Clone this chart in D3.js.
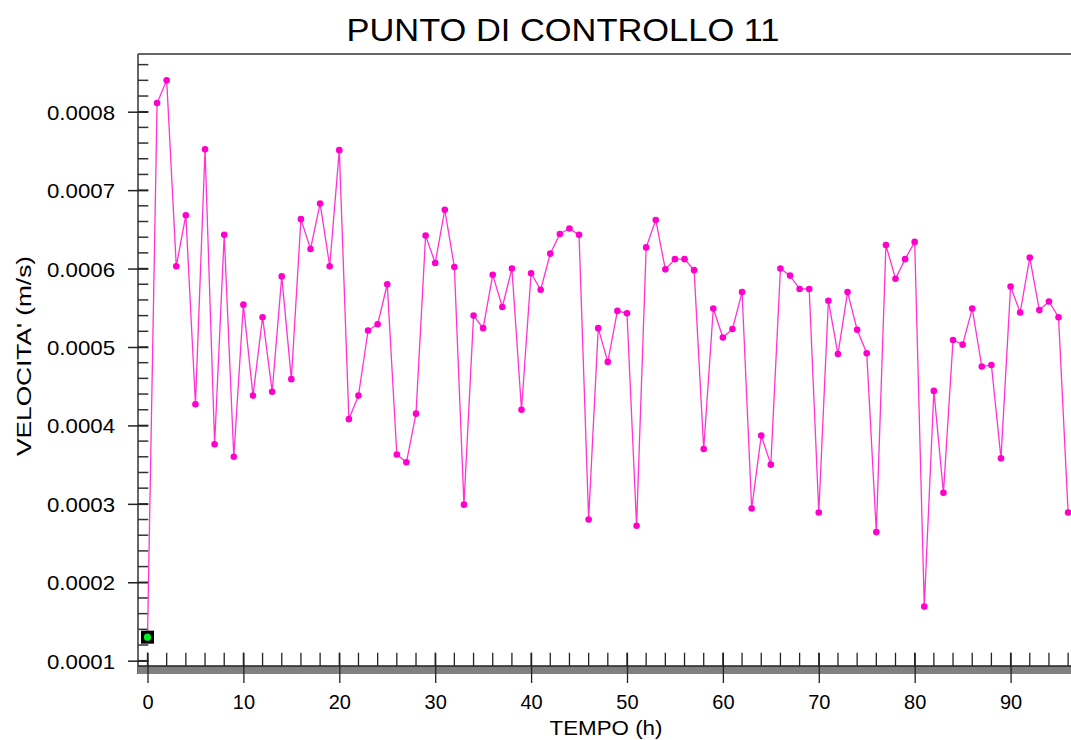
<!DOCTYPE html>
<html>
<head>
<meta charset="utf-8">
<script src="https://cdn.jsdelivr.net/npm/d3@7"></script>
<style>
  html, body { margin: 0; padding: 0; background: #fff; }
  svg { display: block; font-family: "Liberation Sans", Arial, sans-serif; }
</style>
</head>
<body>
<svg id="chart" width="1071" height="740"></svg>
<script>
// ---- data ----
const hours = d3.range(0, 97);
const velocity = [
  0.000130, 0.000811, 0.000840, 0.000603, 0.000668, 0.000427, 0.000752, 0.000376, 0.000643, 0.000360,
  0.000554, 0.000438, 0.000538, 0.000443, 0.000590, 0.000459, 0.000663, 0.000625, 0.000683, 0.000603,
  0.000751, 0.000408, 0.000438, 0.000521, 0.000529, 0.000580, 0.000363, 0.000353, 0.000415, 0.000642,
  0.000607, 0.000675, 0.000602, 0.000299, 0.000540, 0.000524, 0.000592, 0.000551, 0.000600, 0.000420,
  0.000594, 0.000573, 0.000619, 0.000644, 0.000651, 0.000643, 0.000280, 0.000524, 0.000481, 0.000546,
  0.000543, 0.000272, 0.000627, 0.000662, 0.000599, 0.000612, 0.000612, 0.000598, 0.000370, 0.000549,
  0.000512, 0.000523, 0.000570, 0.000294, 0.000387, 0.000350, 0.000600, 0.000591, 0.000574, 0.000574,
  0.000289, 0.000559, 0.000491, 0.000570, 0.000522, 0.000492, 0.000264, 0.000630, 0.000587, 0.000612,
  0.000634, 0.000169, 0.000444, 0.000314, 0.000509, 0.000503, 0.000549, 0.000475, 0.000477, 0.000358,
  0.000577, 0.000544, 0.000614, 0.000547, 0.000558, 0.000538, 0.000289
];
const yTicks = [0.0001, 0.0002, 0.0003, 0.0004, 0.0005, 0.0006, 0.0007, 0.0008];
const xTicks = [0, 10, 20, 30, 40, 50, 60, 70, 80, 90];
const titleText = "PUNTO DI CONTROLLO 11";
const xTitle = "TEMPO (h)";
const yTitle = "VELOCITA' (m/s)";

// ---- layout ----
const svg = d3.select("#chart");
const axisX = 138, topY = 54, barTop = 666, barBottom = 674;
const x = d3.scaleLinear().domain([0, 96.3]).range([147.5, 1071]);
const y = d3.scaleLinear().domain([0.0001, 0.0008]).range([660.7, 111.7]);
const yMin = y.invert(barTop), yMax = y.invert(topY);

// frame
svg.append("line").attr("x1", axisX).attr("x2", 1071).attr("y1", topY).attr("y2", topY)
  .attr("stroke", "#333").attr("stroke-width", 1.5);
svg.append("line").attr("x1", axisX).attr("x2", axisX).attr("y1", topY).attr("y2", barBottom)
  .attr("stroke", "#333").attr("stroke-width", 1.5);

// y minor ticks
const yMinor = d3.range(0, 46).map(i => 0.00008 + i * 0.00002)
  .filter(v => v >= yMin && v <= yMax);
svg.append("g").selectAll("line").data(yMinor).join("line")
  .attr("x1", axisX).attr("x2", 148.3)
  .attr("y1", d => y(d)).attr("y2", d => y(d))
  .attr("stroke", "#333").attr("stroke-width", 1.5);
// y major ticks + labels
const yAxis = d3.axisLeft(y).tickValues(yTicks).tickSize(0).tickPadding(0)
  .tickFormat(d3.format(".4f"));
const yg = svg.append("g").attr("transform", `translate(${axisX},0)`).call(yAxis);
yg.select(".domain").remove();
yg.selectAll(".tick line").remove();
yg.selectAll(".tick").append("line").attr("x1", -10).attr("x2", 10.3)
  .attr("stroke", "#222").attr("stroke-width", 1.5);
yg.selectAll(".tick text").attr("x", -23).attr("dy", "0.36em")
  .attr("font-size", 21).attr("fill", "#000")
  .attr("textLength", 68).attr("lengthAdjust", "spacingAndGlyphs")
  .attr("font-family", "Liberation Sans, Arial, sans-serif");

// bottom bar
svg.append("rect").attr("x", axisX).attr("y", barTop).attr("width", 1071 - axisX)
  .attr("height", barBottom - barTop).attr("fill", "#808080");
svg.append("line").attr("x1", axisX).attr("x2", 1071).attr("y1", barTop).attr("y2", barTop)
  .attr("stroke", "#222").attr("stroke-width", 1.5);

// x minor ticks
const xMinor = d3.range(0, 97, 2);
svg.append("g").selectAll("line").data(xMinor).join("line")
  .attr("x1", d => x(d)).attr("x2", d => x(d))
  .attr("y1", 652.7).attr("y2", barTop)
  .attr("stroke", "#222").attr("stroke-width", 1.3);
// x major
const xAxis = d3.axisBottom(x).tickValues(xTicks).tickSize(0).tickPadding(0);
const xg = svg.append("g").attr("transform", `translate(0,${barTop})`).call(xAxis);
xg.select(".domain").remove();
xg.selectAll(".tick line").remove();
xg.selectAll(".tick").append("line").attr("y1", -13.3).attr("y2", 17)
  .attr("stroke", "#222").attr("stroke-width", 1.3);
xg.selectAll(".tick text").attr("y", 43).attr("dy", 0)
  .attr("font-size", 20).attr("fill", "#000").attr("font-family", "Liberation Sans, Arial, sans-serif");

// series
const pts = hours.map((h, i) => ({ h, v: velocity[i] }));
const line = d3.line().x(d => x(d.h)).y(d => y(d.v));
svg.append("path").datum(pts).attr("d", line)
  .attr("fill", "none").attr("stroke", "#ff33d6").attr("stroke-width", 1.3);
svg.append("g").selectAll("circle").data(pts.slice(1)).join("circle")
  .attr("cx", d => x(d.h)).attr("cy", d => y(d.v)).attr("r", 3.3)
  .attr("fill", "#ff00cc");
// first point special marker
const p0 = pts[0];
svg.append("rect").attr("x", x(p0.h) - 6.5).attr("y", y(p0.v) - 6.5)
  .attr("width", 13).attr("height", 13).attr("fill", "#000");
svg.append("circle").attr("cx", x(p0.h)).attr("cy", y(p0.v)).attr("r", 3.6).attr("fill", "#00ee22");

// titles
svg.append("text").attr("x", 563).attr("y", 41).attr("text-anchor", "middle")
  .attr("font-size", 31).attr("fill", "#000")
  .attr("textLength", 433).attr("lengthAdjust", "spacingAndGlyphs").text(titleText);
svg.append("text").attr("x", 606).attr("y", 735).attr("text-anchor", "middle")
  .attr("font-size", 20).attr("fill", "#000")
  .attr("textLength", 113).attr("lengthAdjust", "spacingAndGlyphs").text(xTitle);
svg.append("text").attr("transform", "translate(31,356) rotate(-90)").attr("text-anchor", "middle")
  .attr("font-size", 20).attr("fill", "#000")
  .attr("textLength", 200).attr("lengthAdjust", "spacingAndGlyphs").text(yTitle);
</script>
</body>
</html>
